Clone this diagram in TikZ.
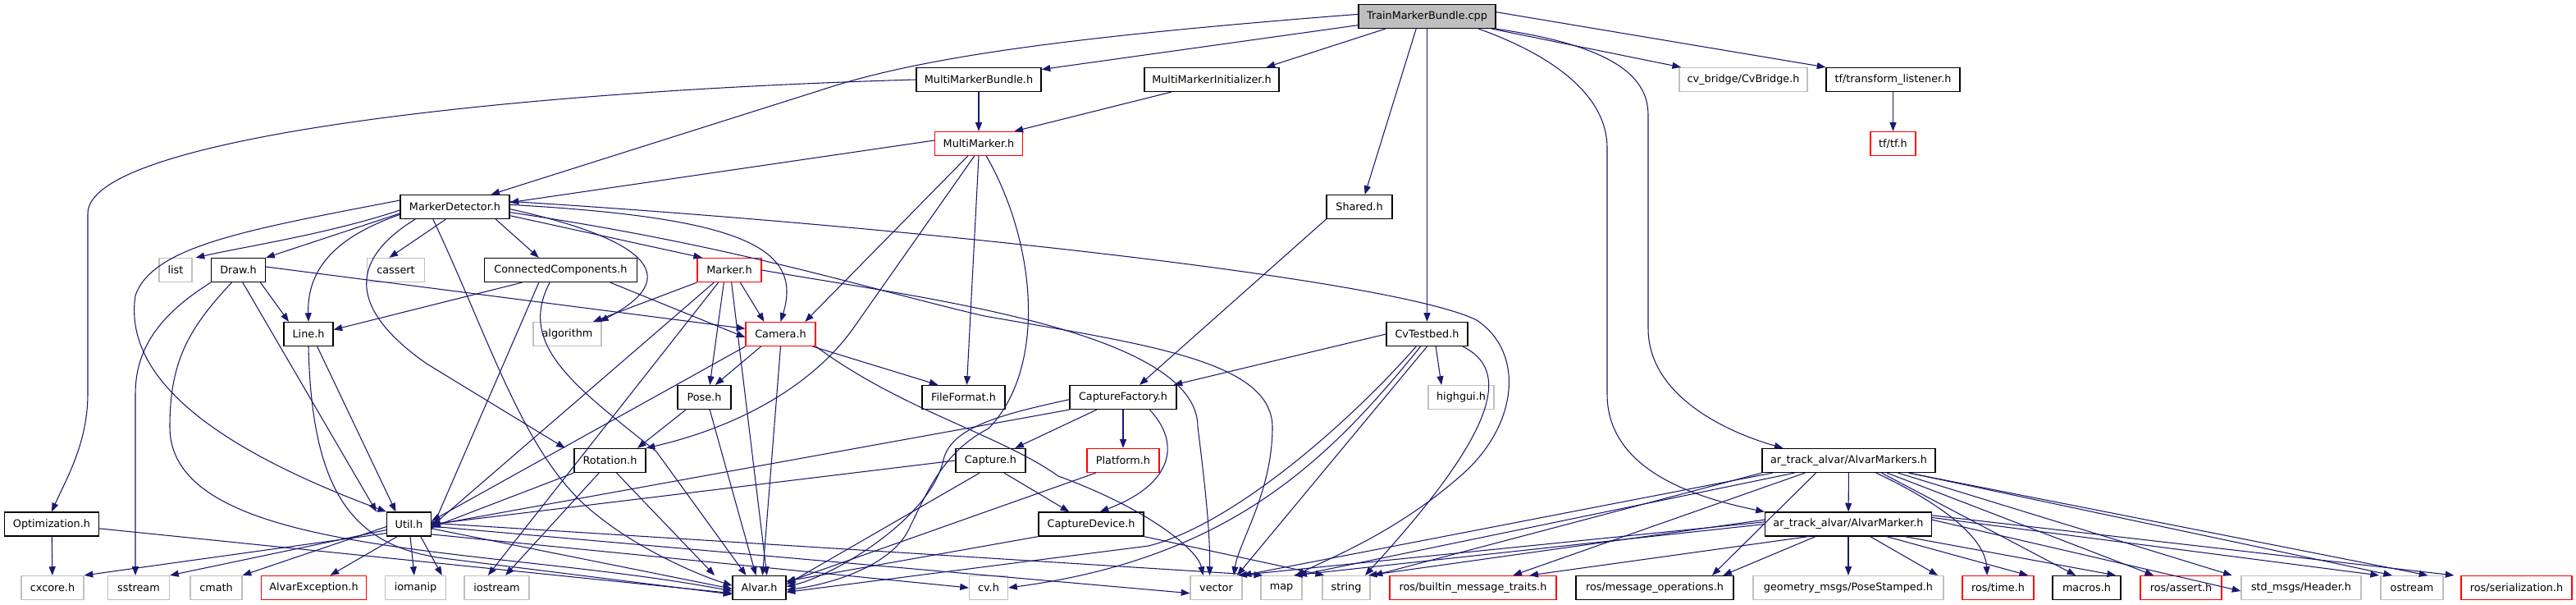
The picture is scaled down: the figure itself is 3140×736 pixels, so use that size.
\documentclass[tikz,border=0pt]{standalone}
\usepackage{fontspec}
\setmainfont{DejaVu Sans}
\usetikzlibrary{arrows.meta}
\definecolor{edgec}{HTML}{191970}
\definecolor{extc}{HTML}{BFBFBF}
\begin{document}
\begin{tikzpicture}[x=0.75pt,y=-0.75pt,
  box/.style={draw, line width=0.9pt, inner sep=0pt, minimum height=21.75pt, fill=white,
    font=\fontsize{9.6}{11}\selectfont},
  wd/.style={minimum width=#1*0.75pt},
  doc/.style={box, draw=black},
  ext/.style={box, draw=extc},
  trunc/.style={box, draw=red},
  mainf/.style={box, draw=black, fill=extc},
  dep/.style={draw=edgec, line width=0.8pt, -{Triangle[length=8pt,width=6pt]}}]
\useasboundingbox (0,0) rectangle (3140,736);
% row 0
\node[mainf,wd=167] (tmb) at (1739.5,20) {TrainMarkerBundle.cpp};
% row 1
\node[doc,wd=152] (mmb) at (1193,97) {MultiMarkerBundle.h};
\node[doc,wd=164] (mmi) at (1477,97) {MultiMarkerInitializer.h};
\node[ext,wd=156] (cvb) at (2125,97) {cv\_bridge/CvBridge.h};
\node[doc,wd=163] (tfl) at (2307.5,97) {tf/transform\_listener.h};
% row 2
\node[trunc,wd=107] (mm) at (1193,175) {MultiMarker.h};
\node[trunc,wd=55] (tf) at (2307.5,175) {tf/tf.h};
% row 3
\node[doc,wd=133] (md) at (554.5,252) {MarkerDetector.h};
\node[doc,wd=80] (sh) at (1657,252) {Shared.h};
% row 4
\node[ext,wd=40] (list) at (214,329) {list};
\node[doc,wd=66] (draw) at (290.5,329) {Draw.h};
\node[ext,wd=70] (cassert) at (482.5,329) {cassert};
\node[doc,wd=186] (cc) at (683.5,329) {ConnectedComponents.h};
\node[trunc,wd=78] (marker) at (889,329) {Marker.h};
% row 5
\node[doc,wd=60] (line) at (376,407) {Line.h};
\node[ext,wd=83] (algorithm) at (691.5,407) {algorithm};
\node[trunc,wd=85] (camera) at (951.5,407) {Camera.h};
\node[doc,wd=99] (cvt) at (1739.5,407) {CvTestbed.h};
% row 6
\node[doc,wd=65] (pose) at (858.5,484) {Pose.h};
\node[doc,wd=101] (fileformat) at (1174.5,484) {FileFormat.h};
\node[doc,wd=130] (cf) at (1369,484) {CaptureFactory.h};
\node[ext,wd=80] (highgui) at (1781,484) {highgui.h};
% row 7
\node[doc,wd=87] (rotation) at (743.5,561) {Rotation.h};
\node[doc,wd=85] (capture) at (1207.5,561) {Capture.h};
\node[trunc,wd=88] (platform) at (1369,561) {Platform.h};
\node[doc,wd=211] (ams) at (2253.5,561) {ar\_track\_alvar/AlvarMarkers.h};
% row 8
\node[doc,wd=115] (opt) at (63,638.5) {Optimization.h};
\node[doc,wd=54] (util) at (498.5,638.5) {Util.h};
\node[doc,wd=128] (cd) at (1330,638.5) {CaptureDevice.h};
\node[doc,wd=203] (am) at (2253,638.5) {ar\_track\_alvar/AlvarMarker.h};
% row 9
\node[ext,wd=76] (cxcore) at (64,716) {cxcore.h};
\node[ext,wd=75] (sstream) at (169,716) {sstream};
\node[ext,wd=63] (cmath) at (263.5,716) {cmath};
\node[trunc,wd=128] (alvarexc) at (382.5,716) {AlvarException.h};
\node[ext,wd=74] (iomanip) at (506.5,716) {iomanip};
\node[ext,wd=79] (iostream) at (605.5,716) {iostream};
\node[doc,wd=65] (alvar) at (925.5,716) {Alvar.h};
\node[ext,wd=47] (cvh) at (1205,716) {cv.h};
\node[ext,wd=63] (vector) at (1482.5,716) {vector};
\node[ext,wd=50] (map) at (1562,716) {map};
\node[ext,wd=58] (string) at (1641,716) {string};
\node[trunc,wd=203] (bmt) at (1795.5,716) {ros/builtin\_message\_traits.h};
\node[doc,wd=192] (mo) at (2017,716) {ros/message\_operations.h};
\node[ext,wd=232] (ps) at (2253,716) {geometry\_msgs/PoseStamped.h};
\node[trunc,wd=87] (time) at (2435.5,716) {ros/time.h};
\node[doc,wd=83] (macros) at (2543.5,716) {macros.h};
\node[trunc,wd=99] (assert) at (2658.5,716) {ros/assert.h};
\node[ext,wd=146] (header) at (2805,716) {std\_msgs/Header.h};
\node[ext,wd=76] (ostream) at (2940,716) {ostream};
\node[trunc,wd=135] (ser) at (3067.5,716) {ros/serialization.h};

% ---- edges from TrainMarkerBundle.cpp
\draw[dep] ([yshift=2pt]tmb.west) .. controls (1300,45) and (1120,70) .. (1000,110) -- ([xshift=33pt]md.north);
\draw[dep] ([yshift=-8pt]tmb.west) -- ([yshift=-2pt]mmb.north east);
\draw[dep] ([xshift=25pt]tmb.south west) -- ([xshift=-12pt]mmi.north east);
\draw[dep] ([xshift=-10pt]tmb.south) -- ([xshift=5pt]sh.north);
\draw[dep] (tmb) -- (cvt);
\draw[dep] ([xshift=-4pt]tmb.south east) -- ([xshift=2pt]cvb.north west);
\draw[dep] ([yshift=4pt]tmb.east) -- (tfl.north west);
\draw[dep] ([xshift=-16pt]tmb.south east) .. controls (1900,70) and (1959,120) .. (1959,180) -- (1959,480) .. controls (1959,570) and (2060,605) .. (am.north west);
\draw[dep] (tmb.south east) .. controls (1960,55) and (2009,90) .. (2009,140) -- (2009,400) .. controls (2009,480) and (2100,525) .. ([xshift=-60pt]ams.north);
% ---- level 1
\draw[dep] (mmb) -- (mm);
\draw[dep] (mmb.west) .. controls (600,112) and (107,170) .. (107,260) -- (107,480) .. controls (107,540) and (80,585) .. (opt.north);
\draw[dep] ([xshift=25pt]mmi.south west) -- ([xshift=-8pt]mm.north east);
\draw[dep] (tfl) -- (tf);
% ---- MultiMarker.h
\draw[dep] ([yshift=3pt]mm.west) -- ([yshift=4pt]md.east);
\draw[dep] ([xshift=-10pt]mm.south) -- ([xshift=-10pt]camera.north east);
\draw[dep] ([xshift=-4pt]mm.south) -- (1040,400) .. controls (990,470) and (900,520) .. (rotation.north east);
\draw[dep] (mm.south) -- ([xshift=3pt]fileformat.north);
\draw[dep] ([xshift=7pt]mm.south) .. controls (1265,300) and (1275,450) .. (1205,522) .. controls (1150,550) and (1130,600) .. (1110,640) .. controls (1090,690) and (1010,712) .. ([yshift=-2pt]alvar.east);
% ---- MarkerDetector.h
\draw[dep] ([yshift=-3pt]md.west) .. controls (400,285) and (300,300) .. ([xshift=3pt]list.north east);
\draw[dep] ([yshift=-6pt]md.west) -- (draw.north east);
\draw[dep] ([xshift=42pt]md.south west) -- ([xshift=-6pt]cassert.north);
\draw[dep] ([xshift=-13pt]md.south east) -- ([xshift=-20pt]cc.north);
\draw[dep] ([yshift=-8pt]md.east) -- ([xshift=5pt]marker.north west);
\draw[dep] ([yshift=-7pt]md.west) .. controls (420,285) and (374,320) .. (line.north);
\draw[dep] ([yshift=6pt]md.west) .. controls (300,280) and (186,300) .. (165,360) .. controls (150,460) and (260,545) .. (util.north west);
\draw[dep] ([xshift=-20pt]md.south) .. controls (600,420) and (640,560) .. (727,627) .. controls (780,670) and (850,700) .. ([yshift=2pt]alvar.west);
\draw[dep] ([xshift=14pt]md.south west) .. controls (420,320) and (430,380) .. (520,443) -- ([xshift=-8pt]rotation.north west);
\draw[dep] ([yshift=2pt]md.east) .. controls (900,265) and (980,300) .. (camera.north);
\draw[dep] ([yshift=-2pt]md.east) .. controls (760,285) and (850,330) .. ([xshift=-2pt]algorithm.north east);
\draw[dep] ([yshift=-5pt]md.east) .. controls (900,300) and (1050,350) .. (1200,385) .. controls (1400,420) and (1550,440) .. (1551,520) .. controls (1551,600) and (1510,660) .. ([xshift=-8pt]vector.north east);
\draw[dep] ([yshift=5pt]md.east) .. controls (1100,275) and (1700,340) .. (1800,390) .. controls (1860,430) and (1850,520) .. (1780,580) .. controls (1700,650) and (1620,680) .. ([xshift=-6pt]map.north east);
% ---- Shared.h
\draw[dep] (sh.south west) -- ([xshift=15pt]cf.north);
% ---- Draw.h
\draw[dep] ([xshift=-5pt]draw.south east) -- ([xshift=-18pt]line.north);
\draw[dep] ([xshift=4pt]draw.south) -- ([xshift=-9pt]util.north west);
\draw[dep] ([xshift=-6pt]draw.south) .. controls (230,400) and (207,440) .. (207,520) .. controls (207,680) and (600,665) .. ([yshift=-3pt]alvar.west);
\draw[dep] (draw.south west) .. controls (200,380) and (165,420) .. (165,480) -- ([xshift=-3pt]sstream.north);
\draw[dep] ([yshift=3pt]draw.east) -- ([yshift=5pt]camera.west);
% ---- ConnectedComponents.h
\draw[dep] ([xshift=35pt]cc.south west) -- ([yshift=4pt]line.east);
\draw[dep] ([xshift=-20pt]cc.south) -- ([yshift=-5pt]util.east);
\draw[dep] ([xshift=-10pt]cc.south) .. controls (630,420) and (700,470) .. (800,550) -- ([xshift=-12pt]alvar.north);
\draw[dep] ([xshift=-25pt]cc.south east) -- ([yshift=-3pt]camera.west);
% ---- Marker.h
\draw[dep] (marker.south west) -- ([xshift=-8pt]algorithm.north east);
\draw[dep] ([xshift=10pt]marker.south) -- ([xshift=-15pt]camera.north);
\draw[dep] ([xshift=-5pt]marker.south) -- ([xshift=5pt]pose.north);
\draw[dep] ([xshift=-14pt]marker.south) -- ([yshift=-2pt]util.east);
\draw[dep] ([xshift=2pt]marker.south) -- ([xshift=7pt]alvar.north);
\draw[dep] ([xshift=-10pt]marker.south) -- ([xshift=-8pt]iostream.north);
\draw[dep] (marker.east) .. controls (1100,360) and (1460,400) .. (1460,520) .. controls (1470,600) and (1475,650) .. ([xshift=-6pt]vector.north);
% ---- Line.h
\draw[dep] ([xshift=8pt]line.south) -- ([xshift=-12pt]util.north);
\draw[dep] (line.south) .. controls (380,600) and (430,665) .. (540,680) -- ([yshift=-6pt]alvar.west);
% ---- Camera.h
\draw[dep] ([xshift=-18pt]camera.south) -- ([xshift=10pt]pose.north);
\draw[dep] (camera.south west) -- ([yshift=3pt]util.east);
\draw[dep] (camera.south) -- ([xshift=3pt]alvar.north);
\draw[dep] ([xshift=-3pt]camera.south east) -- ([xshift=15pt]fileformat.north west);
\draw[dep] (camera.south east) .. controls (1100,500) and (1220,530) .. (1290,580) .. controls (1400,620) and (1460,670) .. ([xshift=-12pt]vector.north);
% ---- CvTestbed.h
\draw[dep] (cvt.west) -- ([xshift=-3pt]cf.north east);
\draw[dep] ([xshift=-10pt]cvt.south) .. controls (1640,520) and (1500,640) .. (1400,665) -- ([yshift=-4pt]alvar.east);
\draw[dep] ([xshift=-6pt]cvt.south) .. controls (1620,560) and (1500,680) .. (cvh.east);
\draw[dep] (cvt.south) -- ([xshift=-5pt]vector.north east);
\draw[dep] ([xshift=8pt]cvt.south) -- ([xshift=-18pt]highgui.north);
\draw[dep] ([xshift=-5pt]cvt.south east) .. controls (1840,450) and (1830,520) .. ([xshift=-5pt]string.north east);
% ---- Pose.h
\draw[dep] ([xshift=8pt]pose.south west) -- ([xshift=-8pt]rotation.north east);
\draw[dep] ([xshift=5pt]pose.south) -- ([xshift=-3pt]alvar.north);
% ---- CaptureFactory.h
\draw[dep] (cf.south west) -- ([yshift=-1pt]util.east);
\draw[dep] ([yshift=-2pt]cf.west) .. controls (1220,505) and (1160,520) .. (1150,560) .. controls (1135,630) and (1020,700) .. ([yshift=1pt]alvar.east);
\draw[dep] ([xshift=25pt]cf.south west) -- ([xshift=-10pt]capture.north east);
\draw[dep] (cf) -- (platform);
\draw[dep] ([xshift=-25pt]cf.south east) .. controls (1440,540) and (1430,590) .. ([xshift=8pt]cd.north);
% ---- Rotation.h
\draw[dep] (rotation.south west) -- ([yshift=-3pt]util.east);
\draw[dep] ([xshift=6pt]rotation.south) -- ([xshift=-16pt]alvar.north west);
\draw[dep] ([xshift=-10pt]rotation.south) -- ([xshift=8pt]iostream.north);
% ---- Capture.h
\draw[dep] (capture.west) -- (util.east);
\draw[dep] ([xshift=-10pt]capture.south) -- ([yshift=3pt]alvar.east);
\draw[dep] ([xshift=-20pt]capture.south east) -- ([xshift=-20pt]cd.north);
% ---- Platform.h
\draw[dep] ([xshift=-25pt]platform.south) -- ([yshift=5pt]alvar.east);
% ---- Optimization.h
\draw[dep] (opt) -- (cxcore);
\draw[dep] ([yshift=-4pt]opt.east) -- ([yshift=-5pt]alvar.west);
% ---- Util.h
\draw[dep] ([yshift=3pt]util.south west) -- (cxcore.north east);
\draw[dep] ([yshift=6pt]util.south west) -- (sstream.north east);
\draw[dep] ([yshift=9pt]util.south west) -- (cmath.north east);
\draw[dep] ([xshift=10pt]util.south west) -- ([xshift=15pt]alvarexc.north);
\draw[dep] (util) -- (iomanip);
\draw[dep] ([xshift=-10pt]util.south east) -- ([xshift=-20pt]iostream.north west);
\draw[dep] ([yshift=-4pt]util.east) -- ([yshift=-1pt]alvar.west);
\draw[dep] ([yshift=2pt]util.south east) -- (cvh.west);
\draw[dep] ([yshift=-2pt]util.east) -- ([yshift=-5pt]vector.west);
\draw[dep] ([yshift=1pt]util.east) -- ([xshift=2pt]map.north west);
% ---- CaptureDevice.h
\draw[dep] (cd.south west) -- ([yshift=6pt]alvar.east);
\draw[dep] (cd.south east) -- ([xshift=2pt]string.north west);
% ---- AlvarMarkers.h
\draw[dep] (ams) -- (am);
\draw[dep] (ams.south west) -- ([xshift=3pt]string.north east);
\draw[dep] ([xshift=10pt]ams.south west) -- (vector.north east);
\draw[dep] ([xshift=30pt]ams.south west) -- ([xshift=-4pt]map.north east);
\draw[dep] ([xshift=-40pt]ams.south) -- ([xshift=-40pt]bmt.north east);
\draw[dep] ([xshift=-30pt]ams.south) -- ([xshift=-20pt]mo.north east);
\draw[dep] ([xshift=25pt]ams.south) .. controls (2380,620) and (2420,660) .. ([xshift=-10pt]time.north);
\draw[dep] ([xshift=30pt]ams.south) -- ([xshift=-10pt]macros.north);
\draw[dep] ([xshift=35pt]ams.south) -- ([xshift=-25pt]assert.north);
\draw[dep] ([xshift=45pt]ams.south) -- ([xshift=-8pt]header.north west);
\draw[dep] ([xshift=55pt]ams.south) -- ([xshift=-18pt]ostream.north);
\draw[dep] ([xshift=-25pt]ams.south east) -- ([xshift=-30pt]ser.north west);
% ---- AlvarMarker.h
\draw[dep] ([yshift=4pt]am.west) -- ([xshift=-2pt]string.north east);
\draw[dep] ([yshift=2pt]am.west) -- ([xshift=-4pt]vector.north east);
\draw[dep] (am.west) -- ([xshift=-8pt]map.north east);
\draw[dep] ([xshift=40pt]am.south west) -- ([xshift=-25pt]bmt.north east);
\draw[dep] ([xshift=-30pt]am.south) -- ([xshift=-10pt]mo.north east);
\draw[dep] (am) -- (ps);
\draw[dep] ([xshift=20pt]am.south) -- ([xshift=-22pt]time.north west);
\draw[dep] ([xshift=35pt]am.south) -- ([xshift=-22pt]macros.north west);
\draw[dep] ([xshift=-25pt]am.south east) -- ([xshift=-22pt]assert.north west);
\draw[dep] ([yshift=4pt]am.east) -- ([yshift=-3pt]header.west);
\draw[dep] ([yshift=6pt]am.east) -- ([xshift=-30pt]ostream.north);
\draw[dep] ([yshift=8pt]am.east) -- ([xshift=-6pt]ser.north west);
\end{tikzpicture}
\end{document}
